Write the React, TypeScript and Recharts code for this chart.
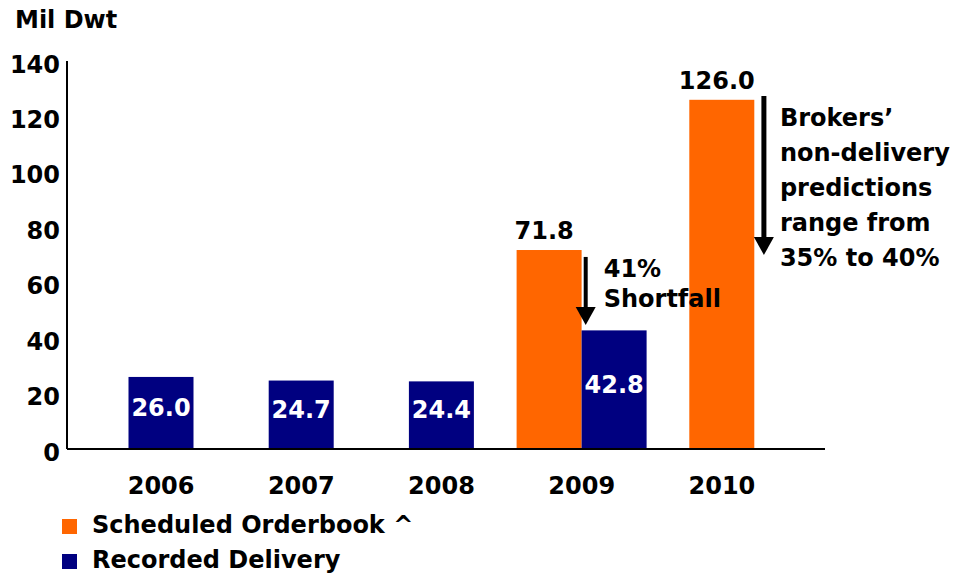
import { BarChart, Bar, XAxis, YAxis, ReferenceLine, Legend } from 'recharts'

const ORANGE = '#FF6600'
const NAVY = '#000080'
const FONT = 'DejaVu Sans, Verdana, sans-serif'

const years = ['2006', '2007', '2008', '2009', '2010']
const orderbook = [null, null, null, 71.8, 126.0]
const delivery = [26.0, 24.7, 24.4, 42.8, null]
const yTicks = [0, 20, 40, 60, 80, 100, 120, 140]

const data = years.map((year, i) => ({ year, orderbook: orderbook[i], delivery: delivery[i] }))

const textStyle = { fontFamily: FONT, fontWeight: 700, fontSize: 24 }

// a lone bar sits in the middle of its year instead of in its half of the pair
function OrderbookBar(props: any) {
  const { x, y, width, height, payload } = props
  if (payload.orderbook == null) return null
  const dx = payload.delivery == null ? width / 2 : 0
  return (
    <g>
      <rect x={x + dx} y={y} width={width} height={height} fill={ORANGE} />
      <text x={x + dx + width / 2 - 5} y={y - 11} textAnchor="middle" fill="#000" style={textStyle}>
        {payload.orderbook.toFixed(1)}
      </text>
    </g>
  )
}

function DeliveryBar(props: any) {
  const { x, y, width, height, payload } = props
  if (payload.delivery == null) return null
  const dx = payload.orderbook == null ? -width / 2 : 0
  return (
    <g>
      <rect x={x + dx} y={y} width={width} height={height} fill={NAVY} />
      <text x={x + dx + width / 2} y={y + height / 2 + 3} textAnchor="middle" fill="#fff" style={textStyle}>
        {payload.delivery.toFixed(1)}
      </text>
    </g>
  )
}

function arrowNote(dx: number, shaft: number, lines: string[], textDx: number, firstDy: number, lineGap: number) {
  return (props: any) => {
    const { x1, y1, y2 } = props
    const x = x1 + dx
    const head = 18
    return (
      <g>
        <line x1={x} y1={y1} x2={x} y2={y2 - head + 1} stroke="#000" strokeWidth={shaft} />
        <polygon points={`${x - 10},${y2 - head} ${x + 10},${y2 - head} ${x},${y2}`} fill="#000" />
        {lines.map((t, i) => (
          <text key={t} x={x + textDx} y={y1 + firstDy + i * lineGap} fill="#000" style={textStyle}>
            {t}
          </text>
        ))}
      </g>
    )
  }
}

function LegendBox() {
  const items = [
    { color: ORANGE, label: 'Scheduled Orderbook ^' },
    { color: NAVY, label: 'Recorded Delivery' },
  ]
  return (
    <div>
      {items.map((it) => (
        <div key={it.label} style={{ display: 'flex', alignItems: 'center', height: 35 }}>
          <span style={{ width: 15, height: 15, background: it.color, marginRight: 15, marginTop: 4 }} />
          <span style={{ ...textStyle, color: '#000', lineHeight: 1 }}>{it.label}</span>
        </div>
      ))}
    </div>
  )
}

export default function App() {
  return (
    <div style={{ position: 'absolute', left: 0, top: 0, width: 954, height: 581, background: '#fff' }}>
      <div style={{ ...textStyle, position: 'absolute', left: 15, top: 8, lineHeight: 1 }}>Mil Dwt</div>
      <BarChart
        width={954}
        height={581}
        data={data}
        margin={{ top: 61, right: 129, left: 0, bottom: 92 }}
        barGap={0}
        barSize={65}
      >
        <XAxis
          dataKey="year"
          padding={{ left: 24, right: 33 }}
          axisLine={{ stroke: '#000', strokeWidth: 2 }}
          tickLine={false}
          tickMargin={22}
          height={40}
          tick={{ ...textStyle, fill: '#000' }}
        />
        <YAxis
          domain={[0, 140]}
          ticks={yTicks}
          interval={0}
          width={67}
          axisLine={{ stroke: '#000', strokeWidth: 2 }}
          tickLine={false}
          tickMargin={1}
          tick={{ ...textStyle, fill: '#000', dy: 3 }}
        />
        <Bar dataKey="orderbook" name="Scheduled Orderbook ^" fill={ORANGE} shape={OrderbookBar} isAnimationActive={false} />
        <Bar dataKey="delivery" name="Recorded Delivery" fill={NAVY} shape={DeliveryBar} isAnimationActive={false} />
        <ReferenceLine
          segment={[{ x: '2009', y: 69.3 }, { x: '2009', y: 44.7 }]}
          shape={arrowNote(4, 4, ['41%', 'Shortfall'], 18, 20, 30)}
        />
        <ReferenceLine
          segment={[{ x: '2010', y: 127.4 }, { x: '2010', y: 70.0 }]}
          shape={arrowNote(42, 5, ['Brokers\u2019', 'non-delivery', 'predictions', 'range from', '35% to 40%'], 16, 30, 35)}
        />
        <Legend
          layout="vertical"
          align="center"
          verticalAlign="middle"
          content={<LegendBox />}
          wrapperStyle={{ position: 'absolute', left: 62, top: 507, width: 400 }}
        />
      </BarChart>
    </div>
  )
}
